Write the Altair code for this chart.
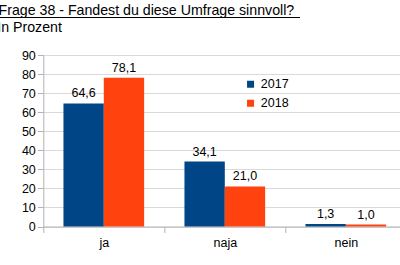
import altair as alt
import pandas as pd

# Survey answers and percentages per year
categories = ["ja", "naja", "nein"]
years = ["2017", "2018"]
values_2017 = [64.6, 34.1, 1.3]
values_2018 = [78.1, 21.0, 1.0]
year_colors = ["#004586", "#ff420e"]
y_ticks = [0, 10, 20, 30, 40, 50, 60, 70, 80, 90]

title_text = "Frage 38 - Fandest du diese Umfrage sinnvoll?"
subtitle_text = "In Prozent"

rows = []
for cat, v17, v18 in zip(categories, values_2017, values_2018):
    rows.append({"Antwort": cat, "Jahr": "2017", "Wert": v17})
    rows.append({"Antwort": cat, "Jahr": "2018", "Wert": v18})
df = pd.DataFrame(rows)

FONT = "Liberation Sans"
GRID = "#d9d9d9"
AXIS = "#b3b3b3"

base = alt.Chart(df).transform_calculate(
    Beschriftung="replace(format(datum.Wert, '.1f'), '.', ',')"
).encode(
    x=alt.X(
        "Antwort:N",
        sort=categories,
        scale=alt.Scale(paddingInner=0, paddingOuter=0),
        axis=alt.Axis(
            title=None, labelAngle=0, tickBand="extent", grid=False,
            tickSize=6, labelPadding=4, labelFontSize=12.5,
            domainColor=AXIS, tickColor=AXIS, labelColor="black",
        ),
    ),
    xOffset=alt.XOffset(
        "Jahr:N", sort=years, scale=alt.Scale(paddingInner=0, paddingOuter=0.5)
    ),
    y=alt.Y(
        "Wert:Q",
        scale=alt.Scale(domain=[0, 90], nice=False),
        axis=alt.Axis(
            title=None, values=y_ticks, tickSize=6, labelOverlap=False,
            labelPadding=2, labelFontSize=12.5, labelColor="black",
            domainColor=AXIS, tickColor=AXIS, gridColor=GRID,
        ),
    ),
)

bars = base.mark_bar().encode(
    color=alt.Color(
        "Jahr:N",
        scale=alt.Scale(domain=years, range=year_colors),
        legend=alt.Legend(
            title=None, orient="none", legendX=201, legendY=23,
            symbolType="square", symbolSize=49, symbolStrokeWidth=0,
            labelFontSize=12.5, labelOffset=4, rowPadding=6, padding=0,
            labelColor="black",
        ),
    ),
)

labels = base.mark_text(
    baseline="alphabetic", dy=-6, fontSize=12.5, color="black"
).encode(text="Beschriftung:N")

heading = alt.Chart(pd.DataFrame({"t": [title_text]})).mark_text(
    align="left", baseline="alphabetic", fontSize=14.2, color="black"
).encode(x=alt.value(-44.8), y=alt.value(-40), text="t:N")

underline = alt.Chart(pd.DataFrame({"t": [title_text]})).mark_rule(
    color="black", strokeWidth=1
).encode(x=alt.value(-44), x2=alt.value(256.7), y=alt.value(-37.5))

subheading = alt.Chart(pd.DataFrame({"t": [subtitle_text]})).mark_text(
    align="left", baseline="alphabetic", fontSize=14.2, color="black"
).encode(x=alt.value(-46.1), y=alt.value(-23.3), text="t:N")

chart = alt.layer(bars, labels, heading, underline, subheading).properties(
    width=363,
    height=171.5,
    autosize=alt.AutoSizeParams(type="none"),
    padding={"left": 43.3, "top": 55, "right": -6.3, "bottom": 38.5},
).configure(font=FONT).configure_view(stroke=None)

chart.save("out.html", embed_options={"renderer": "svg", "actions": False})
